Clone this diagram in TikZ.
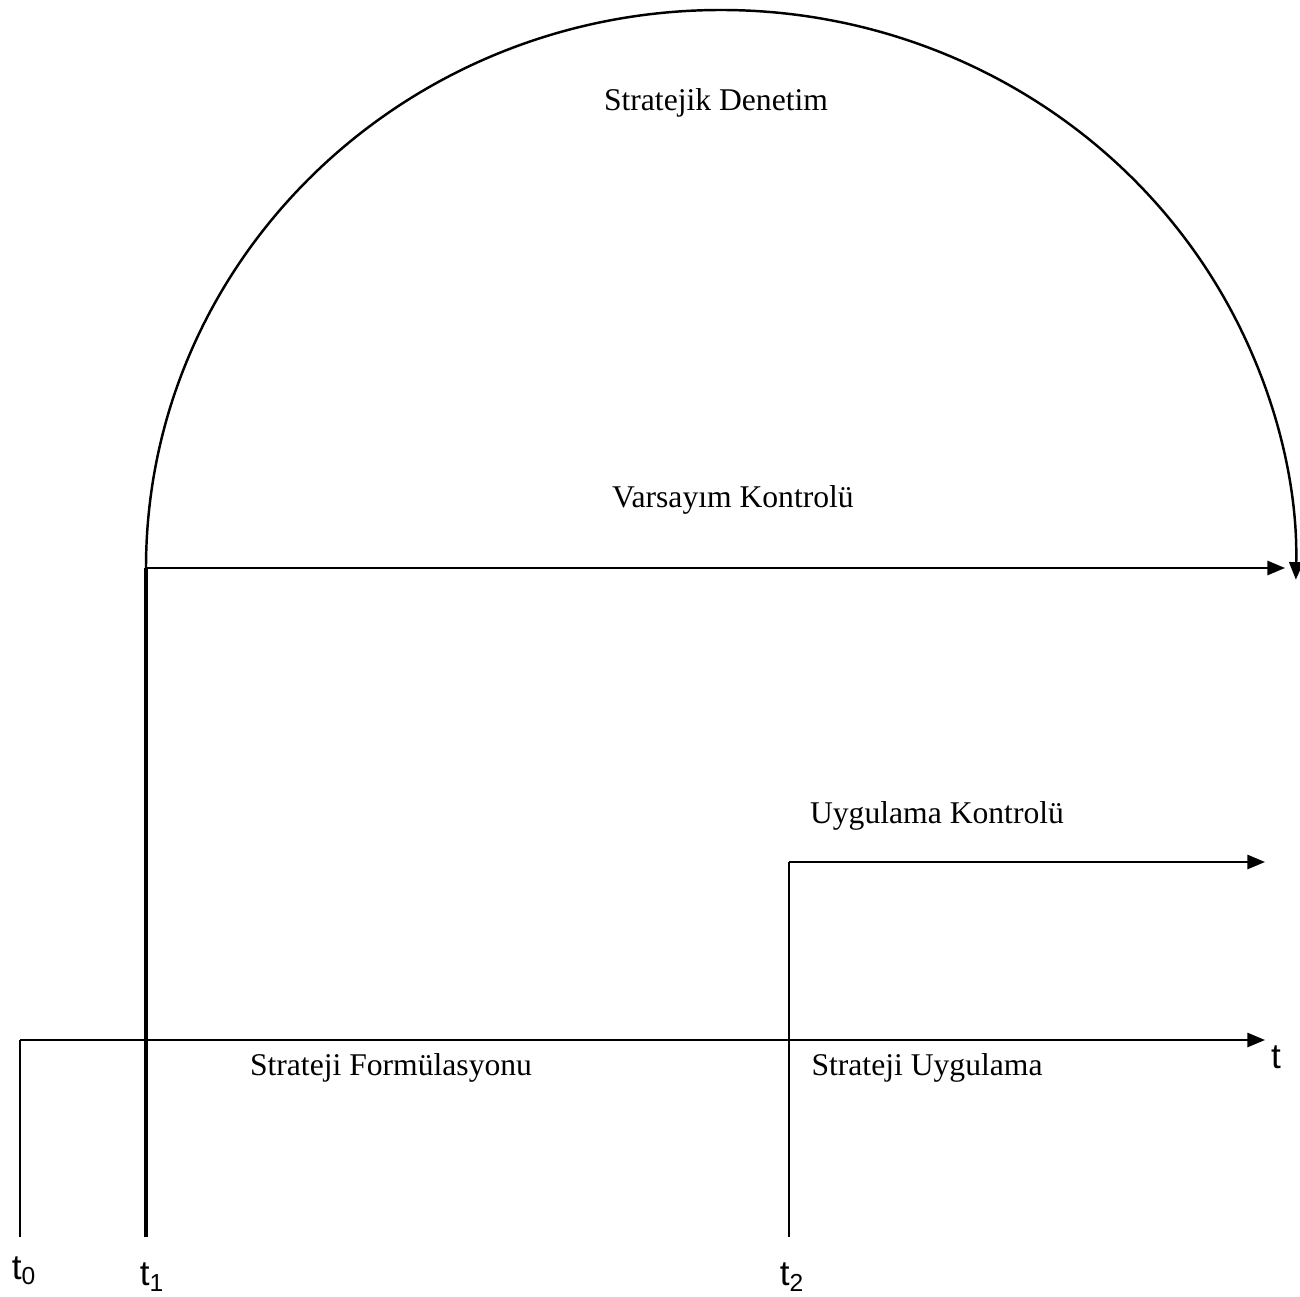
\documentclass[tikz,border=0pt]{standalone}
\usepackage{fontspec}
\setmainfont{Liberation Serif}
\newfontfamily\arialfont{Liberation Sans}
\usetikzlibrary{arrows.meta}

\begin{document}
\begin{tikzpicture}[x=0.02cm, y=0.02cm,
		every node/.style={font=\fontsize{18}{22}\selectfont},
		tlabel/.style={font=\arialfont\fontsize{20}{24}\selectfont},
		pfeil/.style={line width=1.4pt, -{Triangle[length=10pt, width=8pt]}},
		linie/.style={line width=1.4pt}]
	\useasboundingbox (0,0) rectangle (1300,1296);

	% --- Zeitpunkte ---
	\coordinate (t0top) at (20,256);
	\coordinate (t0bot) at (20,59);
	\coordinate (t1top) at (146,728);
	\coordinate (t1bot) at (146,59);
	\coordinate (t2top) at (789,434);
	\coordinate (t2bot) at (789,59);
	\coordinate (achse) at (1265,256);
	\coordinate (vk) at (1285,728);
	\coordinate (uk) at (1265,434);

	% --- Zeitachse ---
	\draw[pfeil] (t0top) -- (achse);
	\draw[linie] (t0top) -- (t0bot);
	\draw[line width=2.4pt] (t1top) -- (t1bot);
	\draw[linie] (t2top) -- (t2bot);

	% --- Varsayim und Uygulama Kontrolue ---
	\draw[pfeil] (t1top) -- (vk);
	\draw[pfeil] (t2top) -- (uk);

	% --- Stratejik Denetim (Bogen) ---
	\draw[pfeil] (t1top) arc[start angle=180, end angle=-1.2, x radius=575, y radius=558];

	% --- Beschriftungen ---
	\node (sd) at (716,1193) {Stratejik Denetim};
	\node (vktext) at (733,796) {Varsayım Kontrolü};
	\node (uktext) at (937,480) {Uygulama Kontrolü};
	\node (sf) at (391,228) {Strateji Formülasyonu};
	\node (su) at (927,228) {Strateji Uygulama};
	\node[tlabel] (l0) at (24,25) {t\textsubscript{0}};
	\node[tlabel] (l1) at (152,19) {t\textsubscript{1}};
	\node[tlabel] (l2) at (792,19) {t\textsubscript{2}};
	\node[tlabel] (lt) at (1276,239) {t};
\end{tikzpicture}
\end{document}
